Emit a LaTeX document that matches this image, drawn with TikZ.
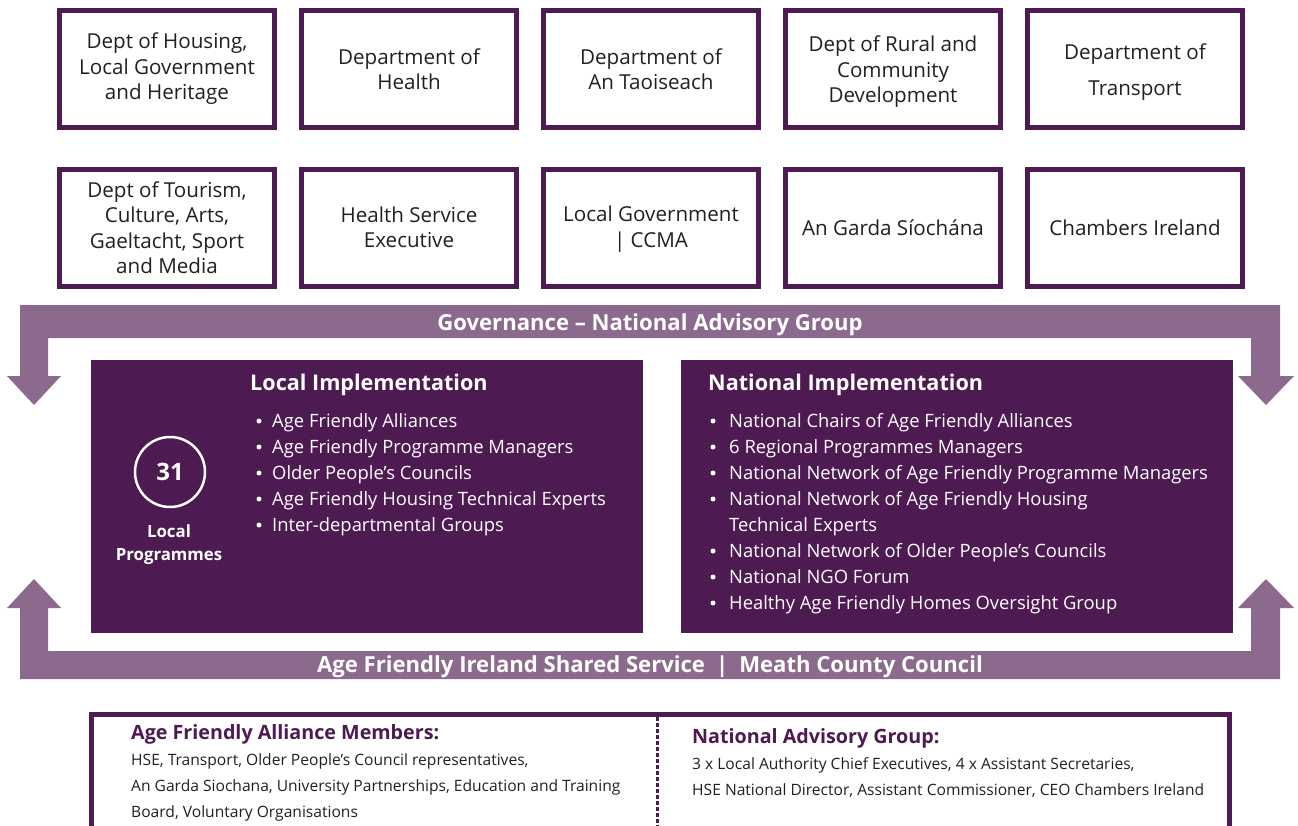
\documentclass[tikz,border=0pt]{standalone}
\usepackage{fontspec}
\setmainfont{Open Sans}
\definecolor{dpurple}{HTML}{4E1A52}
\definecolor{lpurple}{HTML}{8C6A8E}
\definecolor{ink}{HTML}{231F20}
\newcommand\lowerby[2]{\raisebox{-#1}[\height][\depth]{\begin{tabular}{@{}c@{}}#2\end{tabular}}}
\begin{document}
\begin{tikzpicture}[x=1pt,y=-1pt,
 topbox/.style={draw=dpurple,line width=5pt,minimum width=215pt,minimum height=117pt,inner sep=0pt,align=center,text=ink,font=\fontsize{20.6}{25.5}\selectfont},
 panel/.style={fill=dpurple,inner sep=0pt,minimum width=552pt,minimum height=273pt},
 ptitle/.style={anchor=base west,inner sep=0pt,text=white,font=\fontsize{21.6}{25}\selectfont\bfseries},
 item/.style={anchor=base west,inner sep=0pt,text=white,font=\fontsize{18.4}{26}\selectfont},
 bandtext/.style={anchor=base,inner sep=0pt,text=white,font=\fontsize{22.1}{25}\selectfont\bfseries},
 keyhead/.style={anchor=base west,inner sep=0pt,text=dpurple,font=\fontsize{19.7}{22}\selectfont\bfseries},
 keytext/.style={anchor=base west,inner sep=0pt,text=ink,font=\fontsize{15.6}{26}\selectfont},
 bdot/.style={fill=white},
]
\useasboundingbox (0,0) rectangle (1298,825);
\clip (0,0) rectangle (1298,825);

% top boxes
\node[topbox] (b1) at (167,69) {Dept of Housing,\\Local Government\\and Heritage};
\node[topbox] (b2) at (409,69) {Department of\\Health};
\node[topbox] (b3) at (651,69) {Department of\\An Taoiseach};
\node[topbox] (b4) at (893,69) {\lowerby{3pt}{Dept of Rural and\\Community\\Development}};
\node[topbox] (b5) at (1135,69) {\lowerby{3pt}{Department of\\[10.5pt]Transport}};
\node[topbox] (c1) at (167,227.5) {Dept of Tourism,\\Culture, Arts,\\Gaeltacht, Sport\\and Media};
\node[topbox] (c2) at (409,227.5) {Health Service\\Executive};
\node[topbox] (c3) at (651,227.5) {\lowerby{2pt}{Local Government\\| CCMA}};
\node[topbox] (c4) at (893,227.5) {An Garda Síochána};
\node[topbox] (c5) at (1135,227.5) {Chambers Ireland};

% governance arrow band
\fill[lpurple] (20,376) -- (20,305) -- (1280,305) -- (1280,376) -- (1294,376) -- (1266,405) -- (1238,376) -- (1251,376) -- (1251,338) -- (48,338) -- (48,376) -- (61,376) -- (34,405) -- (7,376) -- cycle;
\node[bandtext] (gov) at (650,330) {Governance – National Advisory Group};

% shared service arrow band
\fill[lpurple] (20,608) -- (20,679) -- (1280,679) -- (1280,608) -- (1294,608) -- (1266,579) -- (1238,608) -- (1251,608) -- (1251,651) -- (48,651) -- (48,608) -- (61,608) -- (34,579) -- (7,608) -- cycle;
\node[bandtext] (afi) at (650,672) {Age Friendly Ireland Shared Service\hspace{0.5em}|\hspace{0.5em}Meath County Council};

% panels
\node[panel] (local) at (367,496.5) {};
\node[panel] (national) at (957,496.5) {};

\node[draw=white,line width=2.5pt,circle,minimum size=70pt,inner sep=0pt,text=white,font=\fontsize{24}{28}\selectfont\bfseries] (n31) at (170,472) {31};
\node[align=center,inner sep=0pt,text=white,font=\fontsize{16.8}{23}\selectfont\bfseries] (lp) at (169,545) {Local\\Programmes};

\node[ptitle] (lt) at (250,390.5) {Local Implementation};
\node[item] (l1) at (272,427) {Age Friendly Alliances};
\node[item] (l2) at (272,453) {Age Friendly Programme Managers};
\node[item] (l3) at (272,479) {Older People’s Councils};
\node[item] (l4) at (272,505) {Age Friendly Housing Technical Experts};
\node[item] (l5) at (272,531) {Inter-departmental Groups};
\foreach \y in {421,447,473,499,525} \fill[bdot] (259,\y) circle (2.5);

\node[ptitle] (nt) at (708,390.5) {National Implementation};
\node[item] (m1) at (729,427) {National Chairs of Age Friendly Alliances};
\node[item] (m2) at (729,453) {6 Regional Programmes Managers};
\node[item] (m3) at (729,479) {National Network of Age Friendly Programme Managers};
\node[item] (m4) at (729,505) {National Network of Age Friendly Housing};
\node[item] (m4b) at (729,531) {Technical Experts};
\node[item] (m5) at (729,557) {National Network of Older People’s Councils};
\node[item] (m6) at (729,583) {National NGO Forum};
\node[item] (m7) at (729,609) {Healthy Age Friendly Homes Oversight Group};
\foreach \y in {421,447,473,499,551,577,603} \fill[bdot] (713,\y) circle (2.5);

% key box
\draw[dpurple,line width=5pt] (91,840) -- (91,714.5) -- (1229,714.5) -- (1229,840);
\draw[dpurple,line width=3pt,dash pattern=on 4pt off 2pt] (657,717) -- (657,830);
\node[keyhead] (kh1) at (131,739.5) {Age Friendly Alliance Members:};
\node[keytext] (k1) at (131,765) {HSE, Transport, Older People’s Council representatives,};
\node[keytext] (k2) at (131,791) {An Garda Siochana, University Partnerships, Education and Training};
\node[keytext] (k3) at (131,817) {Board, Voluntary Organisations};
\node[keyhead] (kh2) at (692,743.5) {National Advisory Group:};
\node[keytext] (k4) at (692,769) {3 x Local Authority Chief Executives, 4 x Assistant Secretaries,};
\node[keytext] (k5) at (692,795) {HSE National Director, Assistant Commissioner, CEO Chambers Ireland};
\end{tikzpicture}
\end{document}
